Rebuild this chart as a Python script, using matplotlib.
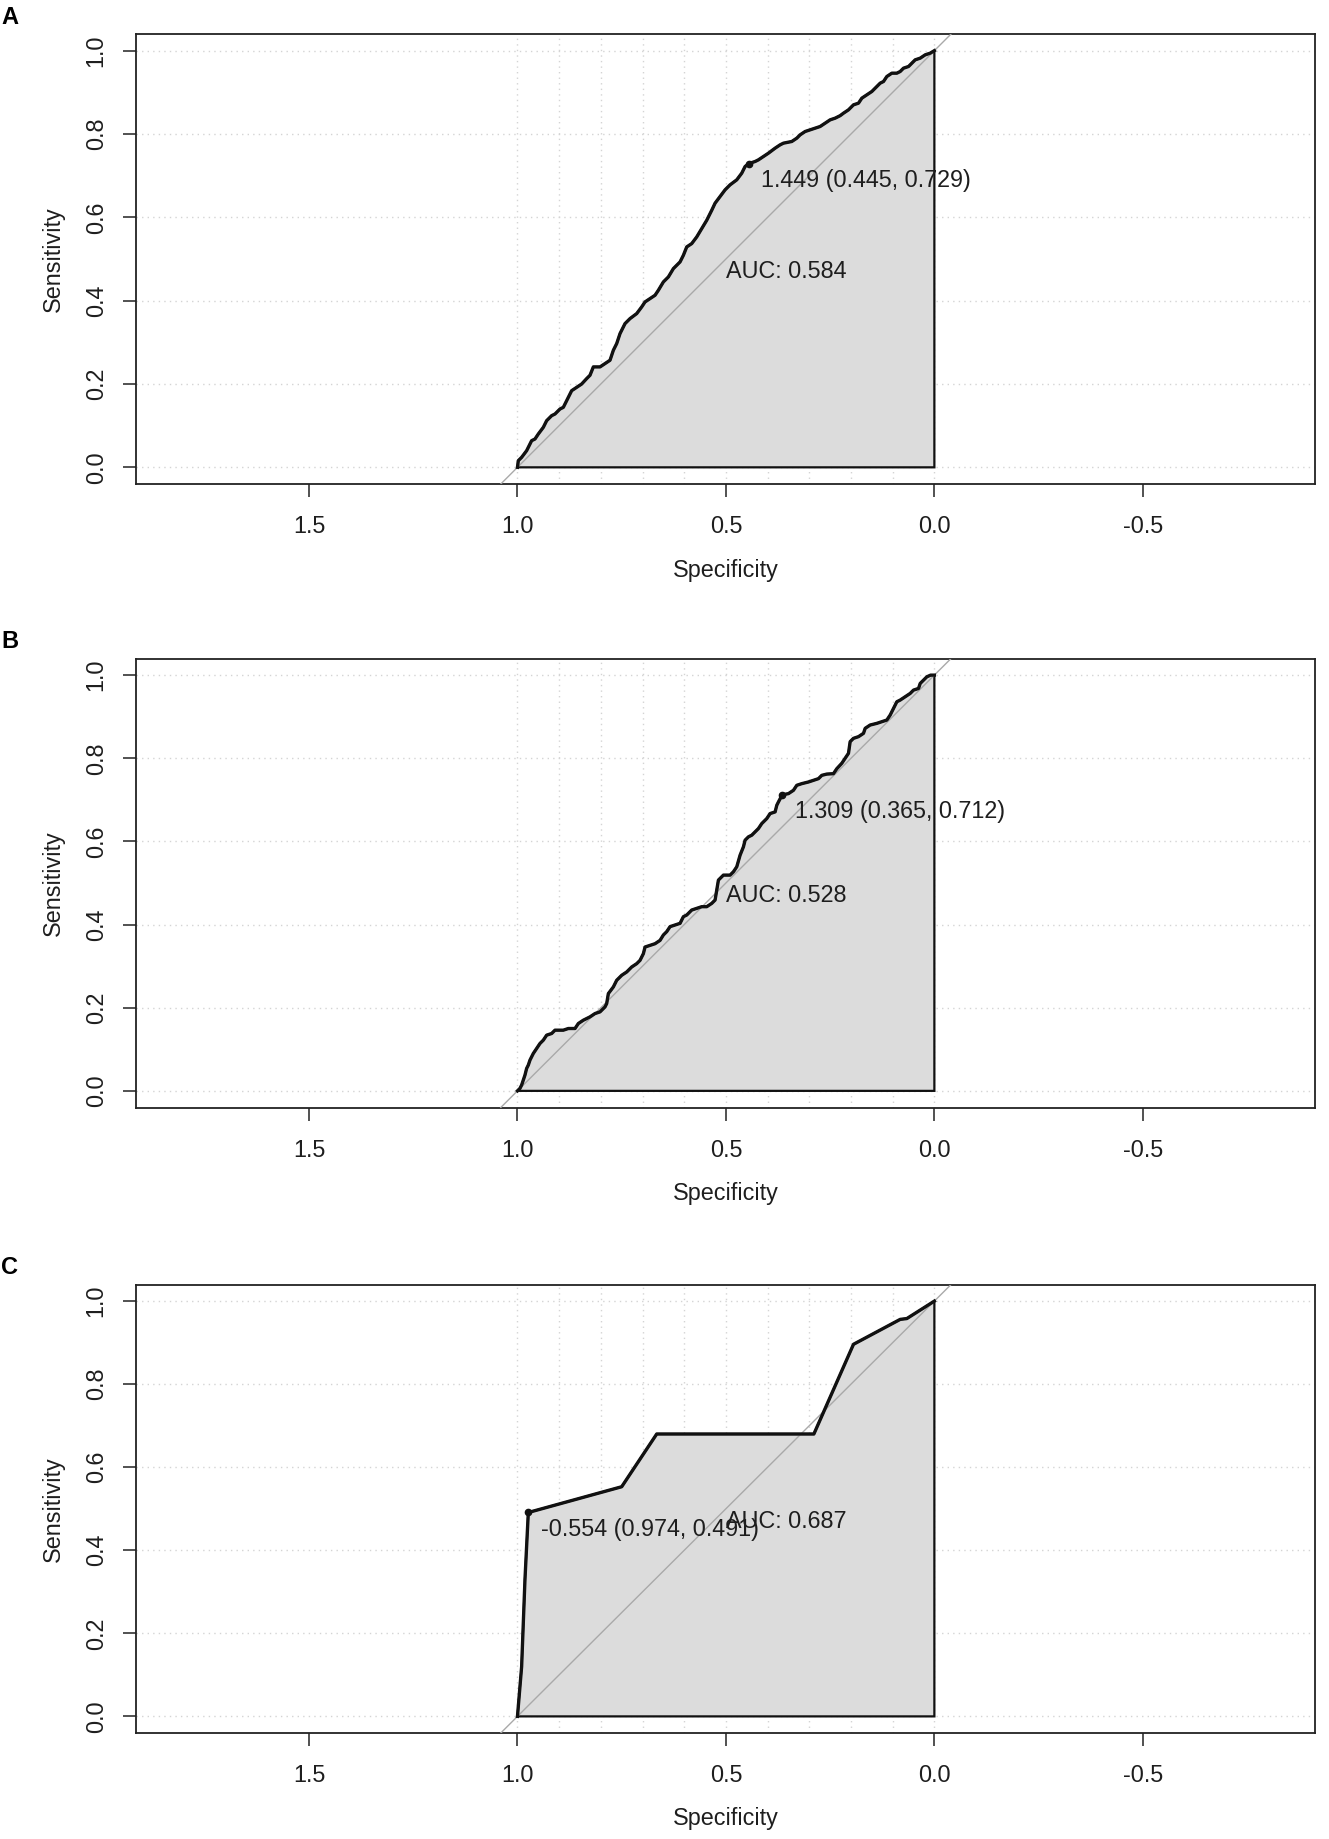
import matplotlib
matplotlib.use("Agg")
import matplotlib.pyplot as plt
import numpy as np

plt.rcParams['font.family'] = ['Liberation Sans', 'DejaVu Sans']
plt.rcParams['axes.unicode_minus'] = False

# ---------------- data ----------------
panel_labels = ["A", "B", "C"]

spec_A = [1.000, 0.998, 0.990, 0.978, 0.966, 0.958, 0.950, 0.938, 0.930, 0.918, 0.910, 0.898,
          0.890, 0.882, 0.870, 0.858, 0.846, 0.834, 0.826, 0.818, 0.802, 0.790, 0.778, 0.770,
          0.762, 0.754, 0.742, 0.730, 0.714, 0.702, 0.694, 0.682, 0.670, 0.662, 0.650, 0.638,
          0.626, 0.610, 0.602, 0.594, 0.582, 0.570, 0.558, 0.546, 0.534, 0.526, 0.514, 0.502,
          0.490, 0.474, 0.462, 0.454, 0.445, 0.430, 0.422, 0.410, 0.398, 0.382, 0.370, 0.362,
          0.342, 0.330, 0.322, 0.310, 0.298, 0.286, 0.274, 0.262, 0.250, 0.238, 0.226, 0.218,
          0.206, 0.194, 0.182, 0.174, 0.162, 0.150, 0.138, 0.130, 0.122, 0.114, 0.102, 0.090,
          0.082, 0.074, 0.062, 0.054, 0.046, 0.034, 0.022, 0.010, 0.000]
sens_A = [0.000, 0.016, 0.024, 0.040, 0.064, 0.068, 0.080, 0.096, 0.112, 0.124, 0.128, 0.140,
          0.144, 0.160, 0.184, 0.192, 0.200, 0.213, 0.221, 0.241, 0.241, 0.249, 0.257, 0.281,
          0.297, 0.321, 0.345, 0.357, 0.369, 0.385, 0.397, 0.405, 0.413, 0.425, 0.445, 0.457,
          0.477, 0.493, 0.509, 0.529, 0.537, 0.553, 0.573, 0.593, 0.617, 0.634, 0.650, 0.666,
          0.678, 0.690, 0.706, 0.722, 0.729, 0.734, 0.738, 0.746, 0.754, 0.766, 0.774, 0.778,
          0.782, 0.790, 0.798, 0.806, 0.810, 0.814, 0.818, 0.826, 0.834, 0.838, 0.844, 0.850,
          0.858, 0.870, 0.874, 0.886, 0.894, 0.902, 0.914, 0.922, 0.926, 0.938, 0.946, 0.946,
          0.950, 0.958, 0.962, 0.970, 0.978, 0.982, 0.990, 0.994, 1.000]

spec_B = [1.000, 0.994, 0.990, 0.986, 0.982, 0.978, 0.974, 0.970, 0.962, 0.954, 0.946, 0.938,
          0.930, 0.918, 0.910, 0.890, 0.878, 0.862, 0.854, 0.842, 0.826, 0.814, 0.802, 0.790,
          0.786, 0.782, 0.770, 0.762, 0.750, 0.738, 0.726, 0.714, 0.706, 0.698, 0.694, 0.682,
          0.670, 0.658, 0.650, 0.642, 0.634, 0.622, 0.610, 0.602, 0.594, 0.582, 0.570, 0.558,
          0.546, 0.534, 0.526, 0.522, 0.518, 0.506, 0.490, 0.482, 0.474, 0.466, 0.458, 0.454,
          0.446, 0.438, 0.430, 0.422, 0.414, 0.402, 0.394, 0.382, 0.378, 0.374, 0.365, 0.350,
          0.338, 0.330, 0.318, 0.302, 0.290, 0.278, 0.270, 0.258, 0.242, 0.234, 0.222, 0.214,
          0.206, 0.202, 0.194, 0.182, 0.170, 0.166, 0.154, 0.138, 0.126, 0.114, 0.106, 0.102,
          0.094, 0.090, 0.082, 0.070, 0.058, 0.050, 0.038, 0.034, 0.026, 0.018, 0.009, 0.000]
sens_B = [0.000, 0.006, 0.014, 0.026, 0.038, 0.054, 0.062, 0.074, 0.090, 0.102, 0.114, 0.122,
          0.134, 0.138, 0.146, 0.146, 0.150, 0.150, 0.162, 0.170, 0.178, 0.186, 0.190, 0.202,
          0.210, 0.234, 0.250, 0.266, 0.278, 0.286, 0.298, 0.306, 0.314, 0.330, 0.346, 0.350,
          0.354, 0.362, 0.375, 0.383, 0.395, 0.399, 0.403, 0.419, 0.423, 0.435, 0.439, 0.443,
          0.443, 0.451, 0.459, 0.483, 0.507, 0.519, 0.519, 0.527, 0.539, 0.567, 0.587, 0.603,
          0.611, 0.615, 0.623, 0.631, 0.643, 0.655, 0.667, 0.671, 0.687, 0.695, 0.712, 0.715,
          0.723, 0.735, 0.739, 0.743, 0.747, 0.751, 0.759, 0.762, 0.763, 0.775, 0.788, 0.800,
          0.812, 0.840, 0.848, 0.852, 0.860, 0.872, 0.880, 0.884, 0.888, 0.892, 0.904, 0.912,
          0.928, 0.936, 0.940, 0.948, 0.956, 0.964, 0.968, 0.980, 0.988, 0.996, 1.000, 1.000]

spec_C = [1.000, 0.990, 0.982, 0.974, 0.750, 0.666, 0.289, 0.194, 0.138, 0.082, 0.066, 0.000]
sens_C = [0.000, 0.120, 0.330, 0.491, 0.553, 0.680, 0.680, 0.896, 0.926, 0.956, 0.958, 1.000]

auc_values = [0.584, 0.528, 0.687]
best_thresholds = [1.449, 1.309, -0.554]
best_spec = [0.445, 0.365, 0.974]
best_sens = [0.729, 0.712, 0.491]

x_ticks = [1.5, 1.0, 0.5, 0.0, -0.5]
y_ticks = [0.0, 0.2, 0.4, 0.6, 0.8, 1.0]
x_grid = [1.0, 0.9, 0.8, 0.7, 0.6, 0.5, 0.4, 0.3, 0.2, 0.1, 0.0]
y_grid = [0.0, 0.2, 0.4, 0.6, 0.8, 1.0]

specs = [spec_A, spec_B, spec_C]
senss = [sens_A, sens_B, sens_C]

# ---------------- layout ----------------
W, H = 1329, 1839
fig = plt.figure(figsize=(W / 100, H / 100), dpi=100)
left_px, right_px = 136, 1315
tops_px = [34, 658.5, 1284.5]
bottoms_px = [484, 1107.5, 1733]

txt_col = "#1e1e1e"
fs = 16.8

for i in range(3):
    t, b = tops_px[i], bottoms_px[i]
    ax = fig.add_axes([left_px / W, 1 - b / H, (right_px - left_px) / W, (b - t) / H])
    ax.set_xlim(1.915, -0.913)
    ax.set_ylim(-0.04, 1.04)

    # grid
    for gx in x_grid:
        ax.plot([gx, gx], [-0.04, 1.04], color="#d4d4d4", lw=1.0,
                linestyle=(0, (1, 3)), zorder=1)
    for gy in y_grid:
        ax.axhline(gy, color="#d4d4d4", lw=1.0, linestyle=(0, (1, 3)), zorder=1)

    sp = np.array(specs[i])
    se = np.array(senss[i])
    poly_x = np.concatenate([sp, [0.0, 1.0]])
    poly_y = np.concatenate([se, [0.0, 0.0]])
    ax.fill(poly_x, poly_y, facecolor="#dcdcdc", edgecolor="#111111", lw=1.6, zorder=2)

    ax.axline((1.0, 0.0), (0.0, 1.0), color="#a9a9a9", lw=1.0, zorder=3)

    ax.plot(sp, se, color="#111111", lw=2.4, zorder=4, solid_joinstyle="round")

    ax.plot([best_spec[i]], [best_sens[i]], "o", color="#111111", ms=4.5, zorder=5)
    ax.text(best_spec[i] - 0.03, best_sens[i] - 0.04,
            f"{best_thresholds[i]:.3f} ({best_spec[i]:.3f}, {best_sens[i]:.3f})",
            ha="left", va="center", fontsize=fs, color=txt_col, zorder=6)
    ax.text(0.5, 0.47, f"AUC: {auc_values[i]:.3f}", ha="left", va="center",
            fontsize=fs, color=txt_col, zorder=6)

    ax.set_xticks(x_ticks)
    ax.set_xticklabels([f"{v:.1f}" for v in x_ticks])
    ax.set_yticks(y_ticks)
    ax.set_yticklabels([f"{v:.1f}" for v in y_ticks], rotation=90, va="center")
    ax.tick_params(axis="both", length=9.4, width=1.1, color="#222222",
                   labelsize=fs, labelcolor=txt_col)
    ax.tick_params(axis="x", pad=13)
    ax.tick_params(axis="y", pad=11)
    for s in ax.spines.values():
        s.set_color("#222222")
        s.set_linewidth(1.3)

    # axis labels
    cx = (left_px + right_px) / 2
    fig.text(cx / W, 1 - (b + 86) / H, "Specificity", ha="center", va="center",
             fontsize=fs, color=txt_col)
    fig.text(53 / W, 1 - ((t + b) / 2) / H, "Sensitivity", ha="center", va="center",
             rotation=90, fontsize=fs, color=txt_col)

    # panel label
    fig.text(1 / W, 1 - (t - 17) / H, panel_labels[i], ha="left", va="center",
             fontsize=17, fontweight="bold", color="#000000")

fig.savefig("out.png", dpi=100, facecolor="white")
